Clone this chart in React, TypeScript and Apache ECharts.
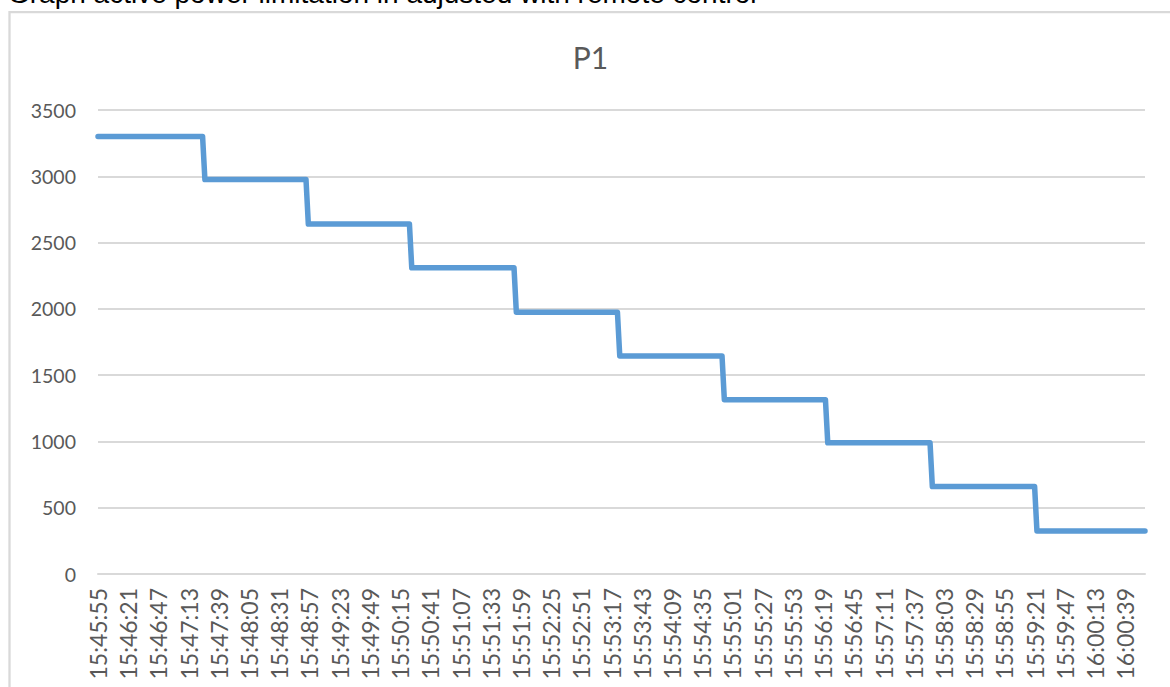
import React, { useEffect, useRef } from "react";
import * as echarts from "echarts";

const pageTitle = "Graph active power limitation in adjusted with remote control";
const chartTitle = "P1";
const startTime = "15:45:55";
const endTime = "16:00:56";
const labelStepSeconds = 26;
const yTicks = [0, 500, 1000, 1500, 2000, 2500, 3000, 3500];

// breakpoints of the stepped P1 series (time, value)
const times = [
  "15:45:55", "15:47:25", "15:47:27",
  "15:48:54", "15:48:56",
  "15:50:23", "15:50:25",
  "15:51:53", "15:51:55",
  "15:53:22", "15:53:24",
  "15:54:52", "15:54:54",
  "15:56:21", "15:56:23",
  "15:57:51", "15:57:53",
  "15:59:21", "15:59:23",
  "16:00:56",
];
const values = [
  3300, 3300, 2975,
  2975, 2640,
  2640, 2310,
  2310, 1975,
  1975, 1645,
  1645, 1315,
  1315, 990,
  990, 660,
  660, 325,
  325,
];

const toSec = (t: string) => {
  const [h, m, s] = t.split(":").map(Number);
  return h * 3600 + m * 60 + s;
};
const base = toSec(startTime);
const pad = (n: number) => String(n).padStart(2, "0");
const fmt = (offset: number) => {
  const t = base + Math.round(offset);
  return `${pad(Math.floor(t / 3600))}:${pad(Math.floor((t % 3600) / 60))}:${pad(t % 60)}`;
};

export default function App() {
  const ref = useRef<HTMLDivElement>(null);
  useEffect(() => {
    if (!ref.current) return;
    const chart = echarts.init(ref.current, undefined, { renderer: "svg" });
    const data = times.map((t, i) => [toSec(t) - base, values[i]]);
    chart.setOption({
      animation: false,
      backgroundColor: "#ffffff",
      grid: { left: 98, right: 25, top: 110, bottom: 113 },
      graphic: [
        {
          type: "rect",
          shape: { x: 9.5, y: 12.2, width: 1250, height: 720 },
          style: { fill: "none", stroke: "#d9d9d9", lineWidth: 2.3 },
          silent: true,
        },
        {
          type: "text",
          x: 8,
          y: 7.5,
          style: {
            text: pageTitle,
            font: "28px 'Liberation Sans', Arial, sans-serif",
            fill: "#000000",
            align: "left",
            verticalAlign: "bottom",
          },
        },
        {
          type: "text",
          x: 590.5,
          y: 57,
          style: {
            text: chartTitle,
            font: "30px Lato, sans-serif",
            fill: "#595959",
            align: "center",
            verticalAlign: "middle",
          },
        },
      ],
      xAxis: {
        type: "value",
        min: 0,
        max: toSec(endTime) - base,
        interval: labelStepSeconds,
        axisLine: { show: true, lineStyle: { color: "#d9d9d9", width: 2 } },
        axisTick: { show: false },
        splitLine: { show: false },
        axisLabel: {
          rotate: 90,
          margin: 14,
          showMaxLabel: false,
          color: "#595959",
          fontFamily: "Lato",
          fontSize: 23,
          formatter: (v: number) => fmt(v),
        },
      },
      yAxis: {
        type: "value",
        min: yTicks[0],
        max: yTicks[yTicks.length - 1],
        interval: yTicks[1] - yTicks[0],
        axisLine: { show: false },
        axisTick: { show: false },
        splitLine: { show: true, lineStyle: { color: "#d9d9d9", width: 2 } },
        axisLabel: {
          margin: 22,
          color: "#595959",
          fontFamily: "Lato",
          fontSize: 19.5,
          formatter: (v: number) => String(v),
        },
      },
      series: [
        {
          type: "line",
          name: chartTitle,
          data,
          showSymbol: false,
          symbol: "none",
          lineStyle: { color: "#5b9bd5", width: 5.5, join: "round", cap: "round" },
        },
      ],
    });
    return () => chart.dispose();
  }, []);
  return (
    <div
      ref={ref}
      style={{ position: "fixed", left: 0, top: 0, width: 1170, height: 687 }}
    />
  );
}
